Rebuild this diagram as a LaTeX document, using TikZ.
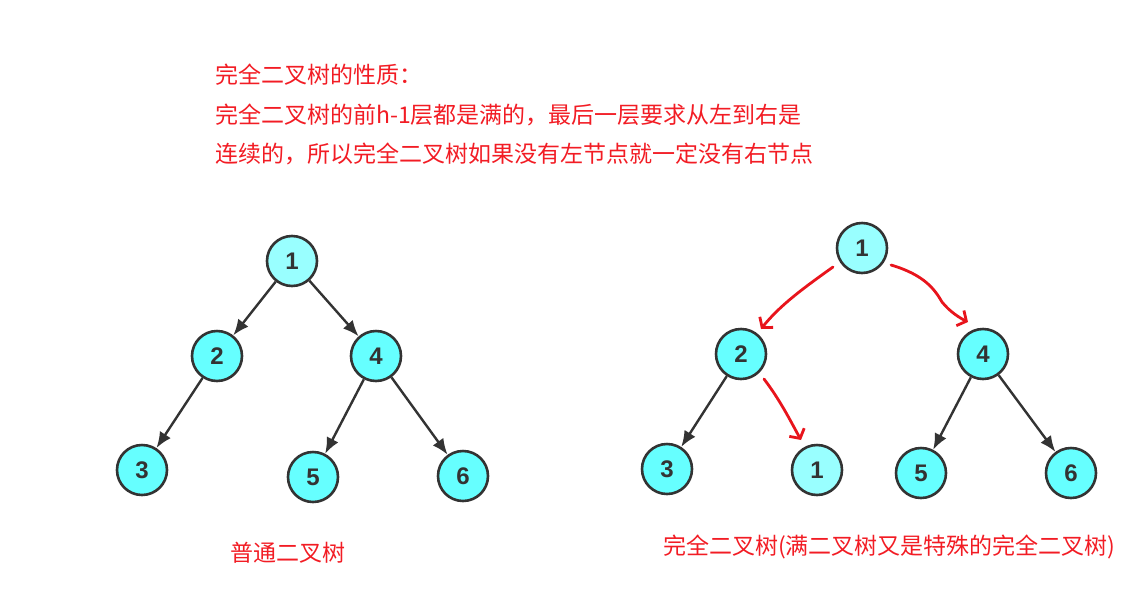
\documentclass[tikz,border=0pt]{standalone}
\usepackage{fontspec}
\newfontfamily\cjk{Noto Sans CJK SC}
\newfontfamily\numfont{Liberation Sans}
\usetikzlibrary{arrows.meta}
\definecolor{txtred}{HTML}{F21C24}
\definecolor{penred}{HTML}{E8141C}
\definecolor{nodecyan}{HTML}{66FFFF}
\definecolor{nodelight}{HTML}{99FFFF}
\definecolor{edgegray}{HTML}{333333}
\tikzset{
  tnode/.style={circle, draw=edgegray, line width=2.6pt, fill=nodecyan, minimum size=50pt, inner sep=0pt, font=\numfont\bfseries\fontsize{24}{24}\selectfont, text=edgegray},
  lnode/.style={tnode, fill=nodelight},
  edge/.style={draw=edgegray, line width=2.4pt, -{Latex[length=16pt,width=13pt]}},
  pen/.style={draw=penred, line width=2.8pt, line cap=round, line join=round, -{Straight Barb[length=7pt,width=17pt,line width=2.8pt]}},
  label/.style={text=txtred, font=\cjk\fontsize{23}{23}\selectfont, inner sep=0pt, anchor=west}
}
\begin{document}
\begin{tikzpicture}[x=1pt,y=-1pt]
\useasboundingbox (0,0) rectangle (1137,600);
% header text
\node[label] (t1) at (215,75) {完全二叉树的性质：};
\node[label] (t2) at (215,115) {完全二叉树的前h-1层都是满的，最后一层要求从左到右是};
\node[label] (t3) at (215,154) {连续的，所以完全二叉树如果没有左节点就一定没有右节点};
% left tree
\node[lnode] (a1) at (292,261) {1};
\node[tnode] (a2) at (217,356) {2};
\node[tnode] (a4) at (376,356) {4};
\node[tnode] (a3) at (142,470) {3};
\node[tnode] (a5) at (313,477) {5};
\node[tnode] (a6) at (463,476) {6};
\draw[edge] (a1) -- (a2);
\draw[edge] (a1) -- (a4);
\draw[edge] (a2) -- (a3);
\draw[edge] (a4) -- (a5);
\draw[edge] (a4) -- (a6);
\node[label] (lab1) at (230,553) {普通二叉树};
% right tree
\node[lnode] (b1) at (862,248) {1};
\node[tnode] (b2) at (741,354) {2};
\node[tnode] (b4) at (983,354) {4};
\node[tnode] (b3) at (667,469) {3};
\node[lnode] (b7) at (817,470) {1};
\node[tnode] (b5) at (921,473) {5};
\node[tnode] (b6) at (1071,473) {6};
\draw[edge] (b2) -- (b3);
\draw[edge] (b4) -- (b5);
\draw[edge] (b4) -- (b6);
% hand-drawn red arrows
\coordinate (p1s) at (833,267);
\coordinate (p1e) at (761,329);
\coordinate (p2s) at (891,265);
\coordinate (p2e) at (968,322);
\coordinate (p3s) at (764,379);
\coordinate (p3e) at (801,440);
\draw[pen] (p1s) .. controls (805,287) and (780,305) .. (p1e);
\draw[pen] (p2s) .. controls (925,275) and (935,290) .. (942,302) .. controls (950,312) and (960,318) .. (p2e);
\draw[pen] (p3s) .. controls (780,400) and (790,420) .. (p3e);
\node[label] (lab2) at (663,547) {完全二叉树(满二叉树又是特殊的完全二叉树)};
\end{tikzpicture}
\end{document}
